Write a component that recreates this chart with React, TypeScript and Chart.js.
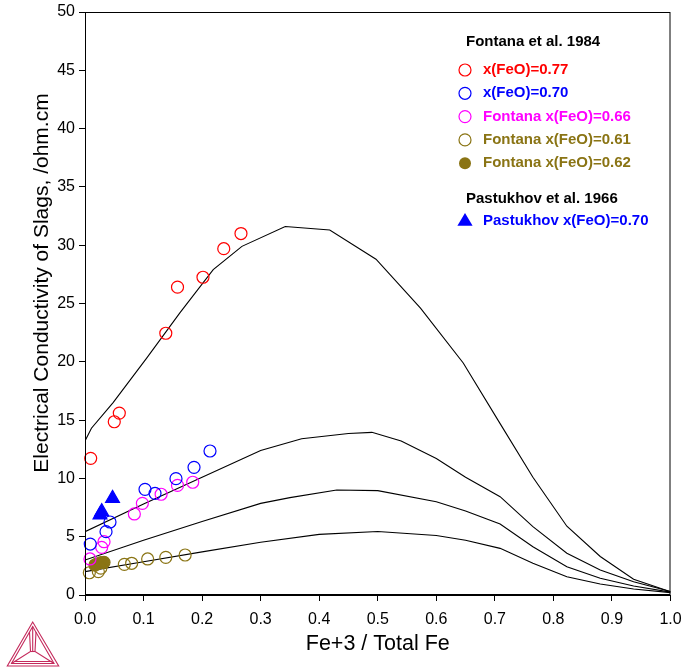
import React, { useEffect, useRef } from 'react';
import { Chart, registerables } from 'chart.js';

Chart.register(...registerables);

const FONT = '"Liberation Sans", Arial, Helvetica, sans-serif';

const X_TITLE = 'Fe+3 / Total Fe';
const Y_TITLE = 'Electrical Conductivity of Slags, /ohm.cm';

const X_TICKS = [0, 0.1, 0.2, 0.3, 0.4, 0.5, 0.6, 0.7, 0.8, 0.9, 1.0];
const Y_TICKS = [0, 5, 10, 15, 20, 25, 30, 35, 40, 45, 50];

// Calculated conductivity curves, x(FeO) = 0.77, 0.70, 0.66, 0.61
const calcX_077 = [0, 0.011, 0.048, 0.105, 0.162, 0.219, 0.268, 0.342, 0.418, 0.497, 0.573, 0.646, 0.709, 0.765, 0.823, 0.88, 0.937, 1.0];
const calcY_077 = [13.2, 14.3, 16.5, 20.3, 24.2, 27.9, 29.9, 31.6, 31.3, 28.8, 24.6, 19.9, 14.7, 10.1, 5.9, 3.3, 1.35, 0.28];

const calcX_070 = [0, 0.1, 0.2, 0.3, 0.37, 0.45, 0.49, 0.54, 0.6, 0.65, 0.709, 0.765, 0.823, 0.88, 0.937, 1.0];
const calcY_070 = [5.43, 7.8, 10.1, 12.4, 13.4, 13.85, 13.95, 13.2, 11.7, 10.1, 8.43, 5.86, 3.58, 2.14, 1.14, 0.3];

const calcX_066 = [0, 0.1, 0.2, 0.3, 0.35, 0.43, 0.5, 0.6, 0.65, 0.709, 0.765, 0.823, 0.88, 0.937, 1.0];
const calcY_066 = [3.0, 4.7, 6.3, 7.86, 8.35, 9.0, 8.95, 8.0, 7.2, 6.09, 4.14, 2.43, 1.43, 0.77, 0.25];

const calcX_061 = [0, 0.1, 0.2, 0.3, 0.4, 0.5, 0.6, 0.65, 0.709, 0.765, 0.823, 0.88, 0.937, 1.0];
const calcY_061 = [2.0, 2.85, 3.7, 4.52, 5.2, 5.45, 5.1, 4.7, 4.0, 2.72, 1.57, 0.94, 0.51, 0.2];

// Fontana et al. 1984
const fon77X = [0.0097, 0.05, 0.0586, 0.138, 0.158, 0.2015, 0.237, 0.2664];
const fon77Y = [11.72, 14.86, 15.6, 22.45, 26.4, 27.25, 29.7, 31.0];

const fon70X = [0.009, 0.0359, 0.0427, 0.1025, 0.1196, 0.1554, 0.1862, 0.2135];
const fon70Y = [4.37, 5.43, 6.26, 9.06, 8.72, 9.98, 10.95, 12.35];

const fon66X = [0.0085, 0.0285, 0.0325, 0.0843, 0.098, 0.13, 0.158, 0.184];
const fon66Y = [3.09, 4.09, 4.57, 6.95, 7.86, 8.64, 9.4, 9.67];

const fon61X = [0.0074, 0.0228, 0.027, 0.0672, 0.0797, 0.107, 0.138, 0.171];
const fon61Y = [1.91, 2.0, 2.3, 2.63, 2.72, 3.09, 3.23, 3.43];

const fon62X = [0.017, 0.02, 0.027, 0.0325];
const fon62Y = [2.57, 2.66, 2.77, 2.8];

// Pastukhov et al. 1966
const pas70X = [0.0256, 0.0285, 0.047];
const pas70Y = [6.86, 7.15, 8.29];

const RED = '#ff0000';
const BLUE = '#0000ff';
const MAGENTA = '#ff00ff';
const OLIVE = '#8a7414';

const zip = (xs: number[], ys: number[]) => xs.map((x, i) => ({ x, y: ys[i] }));

const curve = (xs: number[], ys: number[]) => ({
  type: 'line' as const,
  data: zip(xs, ys),
  showLine: true,
  borderColor: '#000',
  borderWidth: 1.1,
  pointRadius: 0,
  pointHoverRadius: 0,
  fill: false,
  tension: 0,
  order: 2,
});

const markers = (label: string, xs: number[], ys: number[], color: string, style: string, filled: boolean, radius: number) => ({
  label,
  data: zip(xs, ys),
  showLine: false,
  pointStyle: style,
  pointRadius: radius,
  pointHoverRadius: radius,
  pointBorderWidth: 1.2,
  pointBorderColor: color,
  pointBackgroundColor: filled ? color : 'rgba(0,0,0,0)',
  borderColor: color,
  backgroundColor: filled ? color : 'rgba(0,0,0,0)',
  clip: false as const,
  order: 1,
});

type LegendGroup = {
  header: string;
  headerY: number;
  firstRowY: number;
  rows: { label: string; color: string; style: string; filled: boolean }[];
};

const LEGEND_GROUPS: LegendGroup[] = [
  {
    header: 'Fontana et al. 1984',
    headerY: 42,
    firstRowY: 70,
    rows: [
      { label: 'x(FeO)=0.77', color: RED, style: 'circle', filled: false },
      { label: 'x(FeO)=0.70', color: BLUE, style: 'circle', filled: false },
      { label: 'Fontana x(FeO)=0.66', color: MAGENTA, style: 'circle', filled: false },
      { label: 'Fontana x(FeO)=0.61', color: OLIVE, style: 'circle', filled: false },
      { label: 'Fontana x(FeO)=0.62', color: OLIVE, style: 'circle', filled: true },
    ],
  },
  {
    header: 'Pastukhov et al. 1966',
    headerY: 199,
    firstRowY: 221,
    rows: [{ label: 'Pastukhov x(FeO)=0.70', color: BLUE, style: 'triangle', filled: true }],
  },
];

// Frame around the plot area (top and right edges included)
const framePlugin = {
  id: 'frame',
  afterDatasetsDraw(chart: any) {
    const { ctx, chartArea: a } = chart;
    ctx.save();
    ctx.strokeStyle = '#000';
    ctx.lineWidth = 1;
    ctx.strokeRect(a.left + 0.5, a.top + 0.5, a.right - a.left - 1, a.bottom - a.top - 1);
    ctx.restore();
  },
};

// Vertical axis title, placed a little above the plot's middle
const yTitlePlugin = {
  id: 'yTitle',
  afterDraw(chart: any) {
    const { ctx } = chart;
    ctx.save();
    ctx.translate(42, 283);
    ctx.rotate(-Math.PI / 2);
    ctx.font = `21px ${FONT}`;
    ctx.fillStyle = '#000';
    ctx.textAlign = 'center';
    ctx.textBaseline = 'middle';
    ctx.fillText(Y_TITLE, 0, 0);
    ctx.restore();
  },
};

// Grouped legend in the upper right of the plot
const legendPlugin = {
  id: 'groupedLegend',
  afterDraw(chart: any) {
    const { ctx } = chart;
    const headerX = 466;
    const markX = 465;
    const textX = 483;
    ctx.save();
    ctx.font = `bold 15px ${FONT}`;
    ctx.textBaseline = 'middle';
    ctx.textAlign = 'left';
    LEGEND_GROUPS.forEach((g) => {
      ctx.fillStyle = '#000';
      ctx.fillText(g.header, headerX, g.headerY);
      let y = g.firstRowY;
      g.rows.forEach((r) => {
        ctx.strokeStyle = r.color;
        ctx.fillStyle = r.color;
        ctx.lineWidth = 1.2;
        ctx.beginPath();
        if (r.style === 'triangle') {
          const s = 8;
          ctx.moveTo(markX, y - s);
          ctx.lineTo(markX + s * 0.95, y + s * 0.6);
          ctx.lineTo(markX - s * 0.95, y + s * 0.6);
          ctx.closePath();
          ctx.fill();
        } else {
          ctx.arc(markX, y, 6, 0, Math.PI * 2);
          if (r.filled) ctx.fill();
          else ctx.stroke();
        }
        ctx.fillStyle = r.color;
        ctx.fillText(r.label, textX, y);
        y += 23.3;
      });
    });
    ctx.restore();
  },
};

function Logo() {
  const c = '#c42a5c';
  return (
    <svg
      width={70}
      height={52}
      style={{ position: 'absolute', left: 0, top: 615 }}
      viewBox="0 0 70 52"
    >
      <g fill="none" stroke={c} strokeWidth={1.1} strokeLinejoin="miter">
        <polygon points="32.7,7 7.3,51 58.7,51" />
        <polygon points="32.7,11.5 11.5,48.5 54,48.5" />
        <polyline points="32.7,11.5 32.7,36.5" />
        <polyline points="29.5,17 30.5,36.5 11.5,48.5" />
        <polyline points="36,17 35,36.5 54,48.5" />
        <polyline points="30.5,36.5 35,36.5" />
        <polyline points="14,46.5 52,46.5" />
      </g>
    </svg>
  );
}

export default function App() {
  const canvasRef = useRef<HTMLCanvasElement | null>(null);

  useEffect(() => {
    document.body.style.margin = '0';
    const canvas = canvasRef.current;
    if (!canvas) return;

    const chart = new Chart(canvas, {
      type: 'scatter',
      data: {
        datasets: [
          markers('Fontana x(FeO)=0.77', fon77X, fon77Y, RED, 'circle', false, 6),
          markers('Fontana x(FeO)=0.70', fon70X, fon70Y, BLUE, 'circle', false, 6),
          markers('Fontana x(FeO)=0.66', fon66X, fon66Y, MAGENTA, 'circle', false, 6),
          markers('Fontana x(FeO)=0.61', fon61X, fon61Y, OLIVE, 'circle', false, 6),
          markers('Fontana x(FeO)=0.62', fon62X, fon62Y, OLIVE, 'circle', true, 6),
          markers('Pastukhov x(FeO)=0.70', pas70X, pas70Y, BLUE, 'triangle', true, 8),
          curve(calcX_077, calcY_077) as any,
          curve(calcX_070, calcY_070) as any,
          curve(calcX_066, calcY_066) as any,
          curve(calcX_061, calcY_061) as any,
        ],
      },
      options: {
        responsive: false,
        animation: false,
        events: [],
        layout: { padding: { top: 12, right: 10.5, left: 0, bottom: 0 } },
        plugins: {
          legend: { display: false },
          tooltip: { enabled: false },
          title: { display: false },
        },
        scales: {
          x: {
            type: 'linear',
            min: 0,
            max: 1,
            afterBuildTicks: (s: any) => {
              s.ticks = X_TICKS.map((v) => ({ value: v }));
            },
            afterFit: (s: any) => {
              s.height = 72;
              s.paddingLeft = 0;
              s.paddingRight = 0;
            },
            ticks: {
              color: '#000',
              font: { family: FONT, size: 16 },
              padding: 9,
              maxRotation: 0,
              autoSkip: false,
              callback: (v: any) => Number(v).toFixed(1),
            },
            grid: { drawOnChartArea: false, drawTicks: true, tickLength: 6, color: '#000', tickColor: '#000' },
            border: { display: true, color: '#000', width: 1 },
            title: {
              display: true,
              text: X_TITLE,
              color: '#000',
              font: { family: FONT, size: 21.5 },
              padding: { top: 0, bottom: 10 },
            },
          },
          y: {
            type: 'linear',
            min: 0,
            max: 50,
            afterBuildTicks: (s: any) => {
              s.ticks = Y_TICKS.map((v) => ({ value: v }));
            },
            afterFit: (s: any) => {
              s.width = 85;
              s.paddingTop = 0;
              s.paddingBottom = 0;
            },
            ticks: {
              color: '#000',
              font: { family: FONT, size: 16 },
              padding: 4,
              autoSkip: false,
              callback: (v: any) => String(v),
            },
            grid: { drawOnChartArea: false, drawTicks: true, tickLength: 6, color: '#000', tickColor: '#000' },
            border: { display: true, color: '#000', width: 1 },
          },
        },
      },
      plugins: [framePlugin, legendPlugin, yTitlePlugin],
    });

    return () => chart.destroy();
  }, []);

  return (
    <div style={{ position: 'absolute', left: 0, top: 0, width: 681, height: 667, background: '#fff' }}>
      <canvas ref={canvasRef} width={681} height={667} style={{ display: 'block' }} />
      <Logo />
    </div>
  );
}
